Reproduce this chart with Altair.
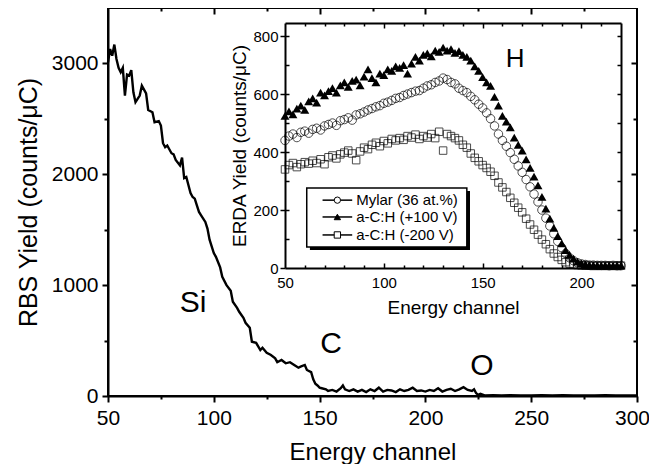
import altair as alt
import pandas as pd

FONT = "Liberation Sans"

# ---------------- main RBS spectrum ----------------
rbs_channel = [50, 51, 52, 53, 54, 55, 56, 57, 58, 59, 60, 61, 62, 63, 65, 66, 68, 69, 71, 72,
               74, 75, 76, 77, 78, 80, 81, 82, 84, 85, 86, 87, 89, 90, 91, 92, 93, 94, 96, 97,
               98, 100, 101, 103, 104, 106, 108, 109, 111, 112, 114, 115, 117, 118, 120, 122, 123, 125, 127, 129,
               130, 132, 134, 136, 138, 140, 141, 143, 144, 146, 147, 148, 149, 150, 151, 153,
               154, 156, 158, 160, 161, 162, 164, 166, 168, 170, 172, 174, 176, 178, 180, 182, 184, 186, 188, 190,
               192, 194, 196, 198, 200, 202, 204, 206, 208, 210, 212, 214, 216, 218, 220, 222, 223, 224, 225, 226,
               228, 232, 236, 240, 245, 250, 255, 260, 265, 270, 275, 280, 285, 290, 295, 300]
rbs_yield = [3010, 3130, 3070, 3170, 3040, 2960, 2920, 2960, 2710, 2900, 2890, 2940, 2740, 2650, 2710, 2800, 2730, 2580, 2560, 2470,
             2480, 2440, 2280, 2245, 2260, 2190, 2180, 2130, 2080, 2150, 1965, 1975, 1830, 1795, 1780, 1720, 1660, 1630, 1570, 1510,
             1410, 1290, 1255, 1160, 1075, 1000, 950, 850, 795, 760, 705, 660, 615, 490, 480, 415, 435, 390, 370, 340,
             305, 325, 295, 305, 280, 255, 265, 280, 235, 215, 150, 110, 95, 75, 70, 60,
             45, 55, 40, 70, 95, 60, 45, 60, 40, 55, 35, 60, 45, 75, 40, 55, 50, 35, 60, 45,
             55, 75, 45, 50, 40, 55, 45, 70, 40, 55, 65, 45, 60, 80, 55, 45, 60, 25, 10, 20,
             5, 8, 5, 8, 4, 6, 8, 5, 7, 4, 6, 5, 8, 4, 6, 5]

peak_labels = ["Si", "C", "O"]
peak_channel = [90.2, 155.4, 226.7]
peak_yield = [838, 468, 270]

# ---------------- inset ERDA spectra ----------------
erda_channel = list(range(50, 221, 2))
mylar = [440, 455, 462, 450, 468, 472, 465, 478, 482, 476,
         490, 495, 500, 492, 508, 512, 518, 510, 528, 532,
         538, 545, 550, 556, 560, 568, 572, 578, 585, 588,
         595, 600, 605, 610, 612, 620, 628, 632, 640, 645,
         655, 650, 640, 635, 620, 612, 605, 592, 580, 565,
         552, 535, 515, 490, 462, 440, 420, 398, 375, 352,
         330, 305, 280, 255, 228, 200, 172, 145, 118, 92,
         70, 50, 35, 25, 18, 14, 12, 10, 10, 9,
         9, 9, 8, 9, 8, 8]
ach_p100 = [525, 540, 530, 550, 560, 545, 575, 585, 570, 605,
            595, 610, 620, 605, 630, 640, 625, 645, 650, 630,
            660, 685, 655, 640, 670, 665, 685, 680, 695, 690,
            700, 670, 705, 728, 715, 735, 740, 730, 750, 745,
            760, 750, 755, 742, 748, 735, 728, 715, 695, 680,
            658, 640, 628, 590, 560, 525, 505, 485, 450, 425,
            405, 375, 345, 315, 285, 245, 205, 170, 138, 110,
            85, 62, 45, 32, 22, 16, 13, 11, 10, 10,
            9, 10, 9, 9, 10, 9]
ach_m200 = [340, 355, 362, 348, 358, 365, 360, 370, 362, 375,
            358, 382, 388, 378, 392, 398, 405, 395, 372, 402,
            415, 410, 425, 432, 420, 438, 430, 445, 440, 448,
            442, 455, 450, 460, 445, 455, 450, 462, 448, 470,
            405, 462, 455, 448, 440, 425, 415, 395, 380, 368,
            355, 345, 332, 318, 295, 278, 262, 242, 225, 208,
            192, 170, 150, 132, 115, 98, 82, 65, 50, 38,
            28, 20, 15, 12, 10, 9, 8, 8, 7, 8,
            7, 8, 7, 8, 7, 8]

legend_labels = ["Mylar (36 at.%)", "a-C:H (+100 V)", "a-C:H (-200 V)"]
legend_shapes = ["circle", "triangle-up", "square"]
legend_fills = ["white", "black", "white"]

# ---------------- geometry ----------------
W, H = 529, 388
IN_X = [177, 513]
IN_Y = [260, 15]
LEG_BOX = dict(x0=61, x1=142, y0=72, y1=276)
LEG_SHADOW = dict(dx=1.6, dy=-10)
LEG_ROWS = [234, 176, 114]
LEG_LINE = (69, 84)
LEG_MARK = 76.5
LEG_TEXT = 86


def ax(**kw):
    base = dict(domainColor="black", domainWidth=2, tickColor="black", tickWidth=2,
                labelColor="black", titleColor="black", labelFont=FONT, titleFont=FONT,
                grid=False, titleFontWeight="normal", labelFlush=False, labelOverlap=False)
    base.update(kw)
    return alt.Axis(**base)


def cond(test, a, b):
    return {"condition": {"test": test, "value": a}, "value": b}


mx_scale = alt.Scale(domain=[50, 300], nice=False, zero=False)
my_scale = alt.Scale(domain=[0, 3500], nice=False)
ix_scale = alt.Scale(domain=[50, 220], range=IN_X, nice=False, zero=False)
iy_scale = alt.Scale(domain=[0, 845], range=IN_Y, nice=False)

main_x_axis = ax(orient="bottom", values=list(range(50, 301, 25)), format="d",
                 labelExpr="datum.value % 50 === 0 ? datum.label : ''",
                 tickSize=cond("datum.value % 50 === 0", 6, 3),
                 labelOffset=cond("datum.value === 300", -5, 0),
                 labelFontSize=21, labelPadding=5, title="Energy channel",
                 titleFontSize=24, titlePadding=12)
main_y_axis = ax(orient="left", values=list(range(0, 3001, 500)), format="d",
                 labelExpr="datum.value % 1000 === 0 ? datum.label : ''",
                 tickSize=cond("datum.value % 1000 === 0", 6, 4),
                 labelFontSize=21, labelPadding=4, title="RBS Yield (counts/\u03bcC)",
                 titleFontSize=25, titlePadding=10)


def MX(f):
    return alt.X(f, scale=mx_scale, axis=main_x_axis)


def MY(f):
    return alt.Y(f, scale=my_scale, axis=main_y_axis)


main_df = pd.DataFrame({"ch": rbs_channel, "y": rbs_yield})
peak_df = pd.DataFrame({"label": peak_labels, "ch": peak_channel, "y": peak_yield})

main_line = alt.Chart(main_df).mark_line(color="black", strokeWidth=2.4).encode(
    x=MX("ch:Q"), y=MY("y:Q"))
main_text = alt.Chart(peak_df).mark_text(font=FONT, fontSize=30, color="black").encode(
    x=MX("ch:Q"), y=MY("y:Q"), text="label:N")
main_layer = alt.layer(main_line, main_text)

mirror = alt.Chart(main_df).mark_point(opacity=0).encode(
    x=alt.X("ch:Q", scale=mx_scale,
            axis=ax(orient="bottom", offset=-H, values=list(range(75, 276, 25)), labels=False,
                    domain=False, title=None, tickSize=cond("datum.value % 50 === 0", 6, 3))),
    y=alt.Y("y:Q", scale=my_scale,
            axis=ax(orient="left", offset=-W, values=list(range(500, 3001, 500)), labels=False,
                    domain=False, title=None, tickSize=cond("datum.value % 1000 === 0", 6, 4))))

# ---------------- inset ----------------
in_x_axis = ax(orient="bottom", offset=IN_Y[0] - H, values=[50, 100, 150, 200], ticks=False,
               labelFontSize=15, labelPadding=7, title="Energy channel", titleFontSize=19,
               titlePadding=8)
in_y_axis = ax(orient="left", offset=-IN_X[0], values=[0, 200, 400, 600, 800], tickSize=5,
               tickWidth=1.5, labelFontSize=15, labelPadding=2, title="ERDA Yield (counts/\u03bcC)",
               titleFontSize=19, titlePadding=3)


def IX(f):
    return alt.X(f, scale=ix_scale, axis=in_x_axis)


def IY(f):
    return alt.Y(f, scale=iy_scale, axis=in_y_axis)


mylar_df = pd.DataFrame({"ch": erda_channel, "v": mylar})
p100_df = pd.DataFrame({"ch": erda_channel, "v": ach_p100})
m200_df = pd.DataFrame({"ch": erda_channel, "v": ach_m200})

circ = alt.Chart(mylar_df).mark_point(shape="circle", filled=False, color="black", size=72,
                                      strokeWidth=1).encode(x=IX("ch:Q"), y=IY("v:Q"))
tri = alt.Chart(p100_df).mark_point(shape="triangle-up", filled=True, color="black", size=80,
                                    opacity=1).encode(x=IX("ch:Q"), y=IY("v:Q"))
sq = alt.Chart(m200_df).mark_point(shape="square", filled=False, color="black", size=56,
                                   strokeWidth=1).encode(x=IX("ch:Q"), y=IY("v:Q"))

box_df = pd.DataFrame({"ch": [LEG_BOX["x0"]], "ch2": [LEG_BOX["x1"]],
                       "v": [LEG_BOX["y0"]], "v2": [LEG_BOX["y1"]]})
shadow_df = pd.DataFrame({"ch": [LEG_BOX["x0"] + LEG_SHADOW["dx"]], "ch2": [LEG_BOX["x1"] + LEG_SHADOW["dx"]],
                          "v": [LEG_BOX["y0"] + LEG_SHADOW["dy"]], "v2": [LEG_BOX["y1"] + LEG_SHADOW["dy"]]})
leg_df = pd.DataFrame({"label": legend_labels, "v": LEG_ROWS,
                       "x0": [LEG_LINE[0]] * 3, "x1": [LEG_LINE[1]] * 3,
                       "xm": [LEG_MARK] * 3, "xt": [LEG_TEXT] * 3})

shadow = alt.Chart(shadow_df).mark_rect(fill="black").encode(
    x=IX("ch:Q"), x2="ch2:Q", y=IY("v:Q"), y2="v2:Q")
box = alt.Chart(box_df).mark_rect(fill="white", stroke="black", strokeWidth=1.5).encode(
    x=IX("ch:Q"), x2="ch2:Q", y=IY("v:Q"), y2="v2:Q")
leg_rule = alt.Chart(leg_df).mark_rule(color="black", strokeWidth=1.5).encode(
    x=IX("x0:Q"), x2="x1:Q", y=IY("v:Q"))
leg_pt = alt.Chart(leg_df).mark_point(stroke="black", strokeWidth=1, size=40, opacity=1).encode(
    x=IX("xm:Q"), y=IY("v:Q"),
    shape=alt.Shape("label:N", scale=alt.Scale(domain=legend_labels, range=legend_shapes), legend=None),
    fill=alt.Fill("label:N", scale=alt.Scale(domain=legend_labels, range=legend_fills), legend=None))
leg_txt = alt.Chart(leg_df).mark_text(font=FONT, fontSize=15, align="left", baseline="middle",
                                      color="black").encode(x=IX("xt:Q"), y=IY("v:Q"), text="label:N")

h_df = pd.DataFrame({"label": ["H"], "ch": [166.4], "v": [720]})
h_txt = alt.Chart(h_df).mark_text(font=FONT, fontSize=26, color="black").encode(
    x=IX("ch:Q"), y=IY("v:Q"), text="label:N")

inset_layer = alt.layer(circ, sq, tri, shadow, box, leg_rule, leg_pt, leg_txt, h_txt)

inset_inner = alt.Chart(mylar_df).mark_point(opacity=0).encode(
    x=alt.X("ch:Q", scale=ix_scale,
            axis=ax(orient="top", offset=-IN_Y[0], values=list(range(60, 220, 10)), labels=False,
                    domain=False, title=None, tickWidth=1.5,
                    tickSize=cond("datum.value % 50 === 0", 5, 3))),
    y=alt.Y("v:Q", scale=iy_scale,
            axis=ax(orient="right", offset=IN_X[0] - W, values=list(range(100, 801, 100)),
                    labels=False, domain=False, title=None, tickWidth=1.5, tickSize=4)))

inset_frame = alt.Chart(mylar_df).mark_point(opacity=0).encode(
    x=alt.X("ch:Q", scale=ix_scale,
            axis=ax(orient="bottom", offset=IN_Y[1] - H, values=list(range(60, 220, 10)), labels=False,
                    title=None, tickWidth=1.5, tickSize=cond("datum.value % 50 === 0", 5, 3))),
    y=alt.Y("v:Q", scale=iy_scale,
            axis=ax(orient="left", offset=-IN_X[1], values=list(range(100, 801, 100)),
                    labels=False, title=None, tickWidth=1.5, tickSize=4)))

chart = alt.layer(main_layer, mirror, inset_layer, inset_inner, inset_frame).resolve_scale(
    x="independent", y="independent"
).properties(
    width=W, height=H,
    autosize=alt.AutoSizeParams(type="none"),
    padding={"left": 100, "top": 0, "right": 12, "bottom": 68},
    background="white",
).configure_view(stroke="black", strokeWidth=2)

chart.save("out.html", embed_options={"renderer": "svg", "actions": False})
